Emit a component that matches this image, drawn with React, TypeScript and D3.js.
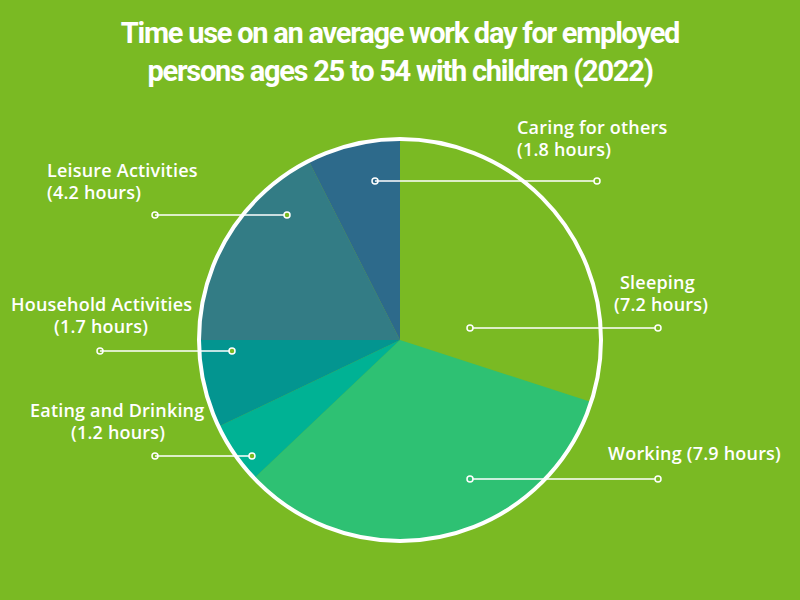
import React from "react";
import * as d3 from "d3";

const categories = ["Sleeping", "Working", "Eating and Drinking", "Household Activities", "Leisure Activities", "Caring for others"];
const hours = [7.2, 7.9, 1.2, 1.7, 4.2, 1.8];
const colors = ["#7aba23", "#2ec173", "#00b294", "#039590", "#337c85", "#2d6a8b"];
const titleLines = ["Time use on an average work day for employed", "persons ages 25 to 54 with children (2022)"];

// label layout (positions of text and leader lines)
const labelLayout = [
  { lines: ["Sleeping", "(7.2 hours)"], tx: [620, 614], ty: 289, x1: 470, x2: 658, y: 328 },
  { lines: ["Working (7.9 hours)"], tx: [608], ty: 460, x1: 470, x2: 658, y: 479 },
  { lines: ["Eating and Drinking", "(1.2 hours)"], tx: [30, 71], ty: 417, x1: 155, x2: 252, y: 456 },
  { lines: ["Household Activities", "(1.7 hours)"], tx: [11, 54], ty: 311, x1: 100, x2: 232, y: 351 },
  { lines: ["Leisure Activities", "(4.2 hours)"], tx: [47, 47], ty: 177, x1: 155, x2: 287, y: 215 },
  { lines: ["Caring for others", "(1.8 hours)"], tx: [517, 517], ty: 134, x1: 375, x2: 597, y: 181 },
];

const W = 800, H = 600, CX = 400, CY = 340, R = 201;

export default function App() {
  React.useEffect(() => { document.body.style.margin = "0"; }, []);
  const pie = d3.pie<number>().sort(null).value((d) => d).startAngle(0).endAngle(2 * Math.PI);
  const arcs = pie(hours);
  const arc = d3.arc<d3.PieArcDatum<number>>().innerRadius(0).outerRadius(R);
  const labelFont = "'Open Sans', sans-serif";
  return (
    <svg width={W} height={H} style={{ position: "absolute", left: 0, top: 0, display: "block" }}>
      <rect x={0} y={0} width={W} height={H} fill="#7aba23" />
      {titleLines.map((t, i) => (
        <text key={i} x={400} y={43 + i * 38} textAnchor="middle" fill="#fff" fontFamily="Roboto, sans-serif" fontWeight={700} fontSize={29} letterSpacing={-1.25}>{t}</text>
      ))}
      <g transform={`translate(${CX},${CY})`}>
        {arcs.map((a, i) => (
          <path key={categories[i]} d={arc(a) || ""} fill={colors[i]} />
        ))}
        <circle r={R} fill="none" stroke="#fff" strokeWidth={4} />
      </g>
      {labelLayout.map((l, i) => (
        <g key={i}>
          {l.lines.map((s, j) => (
            <text key={j} x={l.tx[j]} y={l.ty + j * 22} fill="#fff" fontFamily={labelFont} fontWeight={600} fontSize={18} letterSpacing={0.2}>{s}</text>
          ))}
          <line x1={l.x1} x2={l.x2} y1={l.y} y2={l.y} stroke="#fff" strokeWidth={1.5} />
          <circle cx={l.x1} cy={l.y} r={3} fill={i === 0 || i === 1 ? colors[i] : "none"} stroke="#fff" strokeWidth={1.5} />
          <circle cx={l.x2} cy={l.y} r={3} fill="#7aba23" stroke="#fff" strokeWidth={1.5} />
        </g>
      ))}
    </svg>
  );
}
